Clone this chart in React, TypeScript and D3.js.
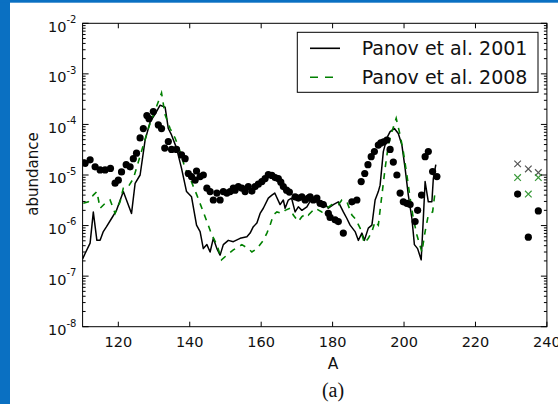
import React from "react";
import * as d3 from "d3";

// Panov et al. 2001 (solid black line): [A, abundance]
const panov2001: [number, number][] = [
  [110, 2.2e-7], [110.7, 2.8e-7], [112.1, 4.5e-7], [113, 1.85e-6], [114, 5.1e-7], [114.9, 5.1e-7],
  [115.8, 7.6e-7], [116.7, 9.5e-7], [118.1, 1.38e-6], [119.5, 2.0e-6], [121.4, 4.7e-6], [123.7, 1.74e-6],
  [124.7, 6.8e-6], [126.1, 1.0e-5], [127.5, 4.9e-5], [128.9, 1.12e-4], [130.3, 1.6e-4], [131.7, 2.4e-4],
  [133.1, 2.2e-4], [134.0, 8.3e-5], [134.9, 6.2e-5], [136.3, 3.4e-5], [137.7, 1.35e-5], [139.1, 4.7e-6],
  [140.5, 3.7e-6], [141.9, 1.02e-6], [142.9, 7.6e-7], [143.8, 3.5e-7], [144.8, 4.2e-7], [145.7, 3.0e-7],
  [146.6, 5.6e-7], [147.6, 3.5e-7], [148.5, 2.6e-7], [149.4, 4.2e-7], [150.8, 5.1e-7], [152.2, 4.8e-7],
  [154.1, 5.6e-7], [156.0, 6.0e-7], [156.9, 7.1e-7], [157.8, 9.5e-7], [158.8, 1.12e-6], [159.7, 1.74e-6],
  [160.6, 2.2e-6], [162, 3.5e-6], [163, 4.0e-6], [163.8, 4.4e-6], [165.3, 2.6e-6], [166.2, 3.2e-6],
  [166.7, 2.2e-6], [167.6, 3.2e-6], [168.5, 3.5e-6], [169.5, 1.86e-6], [170.4, 2.35e-6], [171.4, 2.0e-6],
  [172.8, 2.35e-6], [174.2, 3.5e-6], [176, 2.75e-6], [177.4, 2.95e-6], [178.8, 2.2e-6], [180.2, 2.6e-6],
  [181.6, 2.95e-6], [183, 1.86e-6], [184, 1.38e-6], [184.9, 1.02e-6], [186.3, 7.6e-7], [187.2, 5.1e-7],
  [188.2, 7.1e-7], [188.9, 5.1e-7], [190, 8.9e-7], [191, 1.02e-6], [191.9, 3.2e-6], [192.8, 4.7e-6],
  [193.3, 6.3e-6], [194.2, 2.9e-5], [195.2, 5.4e-5], [196.1, 7.2e-5], [197.3, 8.3e-5], [198.4, 6.6e-5],
  [199.4, 3.9e-5], [200.3, 1.35e-5], [201.2, 4.0e-6], [202.2, 1.38e-6], [202.9, 4.2e-7], [203.8, 3.5e-7],
  [204.8, 2.1e-7], [205.4, 1.38e-6], [205.9, 7.4e-6], [206.8, 2.95e-6], [207.8, 2.95e-6], [208.2, 8.5e-6],
  [208.9, 1.6e-5],
];

// Panov et al. 2008 (green dashed line): [A, abundance]
const panov2008: [number, number][] = [
  [110.2, 2.75e-6], [111.6, 2.95e-6], [113, 4.0e-6], [114, 4.7e-6], [114.9, 2.2e-6], [116.3, 2.75e-6],
  [117.7, 3.2e-6], [119.1, 1.74e-6], [120.5, 2.95e-6], [121.4, 5.5e-6], [122.8, 5.9e-6], [124.2, 8.5e-6],
  [125.6, 1.8e-5], [127, 3.9e-5], [128.4, 8.3e-5], [129.8, 1.55e-4], [131.2, 2.8e-4], [132.1, 4.2e-4],
  [133.1, 1.55e-4], [134.5, 8.3e-5], [135.9, 5.4e-5], [137.3, 2.9e-5], [138.7, 1.35e-5], [140.1, 8.5e-6],
  [142, 4.0e-6], [143.4, 2.2e-6], [144.8, 1.2e-6], [146.2, 6.5e-7], [147.6, 4.2e-7], [148.9, 2.1e-7],
  [150.4, 2.6e-7], [152.2, 3.3e-7], [154.6, 4.2e-7], [156.4, 3.5e-7], [157.4, 3.0e-7], [158.8, 3.5e-7],
  [160.6, 5.1e-7], [161.6, 7.1e-7], [162.5, 1.02e-6], [163.4, 1.62e-6], [164.4, 1.86e-6], [165.8, 1.74e-6],
  [166.7, 2.0e-6], [168.1, 2.2e-6], [169, 1.62e-6], [170.4, 1.2e-6], [171.4, 1.5e-6], [172.8, 1.74e-6],
  [173.2, 1.62e-6], [175.1, 2.2e-6], [177, 1.86e-6], [178.4, 2.2e-6], [179.8, 2.6e-6], [181.6, 2.6e-6],
  [182.6, 3.2e-6], [184, 2.95e-6], [185.4, 1.62e-6], [186.3, 1.38e-6], [187.7, 8.9e-7], [188.9, 4.5e-7],
  [190, 5.6e-7], [191, 7.6e-7], [191.9, 1.2e-6], [192.8, 1.02e-6], [193.8, 4.0e-6], [194.7, 1.35e-5],
  [195.6, 3.9e-5], [196.6, 7.2e-5], [197.8, 1.32e-4], [198.9, 6.2e-5], [199.8, 2.9e-5], [200.8, 1.0e-5],
  [201.7, 3.5e-6], [202.6, 1.38e-6], [203.6, 6.5e-7], [205, 3.0e-7], [205.9, 7.6e-7], [206.8, 1.62e-6],
  [208, 1.86e-6], [208.7, 4.7e-6],
];

// Observed abundances (black dots): [A, abundance]
const observed: [number, number][] = [
  [110.7, 1.7e-5], [112.1, 2.0e-5], [113.5, 1.45e-5], [114.9, 1.26e-5], [116.3, 1.26e-5], [117.8, 1.35e-5],
  [119.1, 6.9e-6], [120.0, 7.9e-6], [120.9, 1.15e-5], [122.2, 1.6e-5], [123.3, 1.45e-5], [124.2, 2.1e-5],
  [125.1, 2.7e-5], [126.1, 5.4e-5], [127.0, 8.3e-5], [128.0, 1.5e-4], [128.6, 1.3e-4], [129.8, 1.8e-4],
  [131.2, 9.8e-5], [132.1, 8.3e-5], [133.0, 3.4e-5], [134.0, 4.6e-5], [134.9, 3.2e-5], [136.3, 3.2e-5],
  [137.7, 2.5e-5], [138.7, 2.1e-5], [139.6, 1.07e-5], [140.5, 9.3e-6], [141.5, 7.9e-6], [141.9, 1.2e-5],
  [142.9, 9.3e-6], [143.8, 1.0e-5], [144.8, 5.5e-6], [145.7, 4.7e-6], [146.6, 3.2e-6], [147.6, 4.4e-6],
  [148.5, 3.2e-6], [149.4, 4.7e-6], [150.4, 4.4e-6], [151.3, 4.7e-6], [152.2, 5.5e-6], [152.7, 5.0e-6],
  [153.6, 5.9e-6], [154.6, 5.5e-6], [155.5, 4.7e-6], [156.4, 5.9e-6], [157.4, 4.8e-6], [158.3, 5.9e-6],
  [159.2, 6.6e-6], [160.2, 7.4e-6], [161.1, 8.5e-6], [162.0, 1.02e-5], [163.0, 9.8e-6], [163.9, 8.9e-6],
  [164.8, 8.5e-6], [165.5, 7.2e-6], [166.2, 5.9e-6], [167.1, 5.0e-6], [167.9, 4.6e-6], [169.5, 3.7e-6],
  [170.4, 3.5e-6], [171.4, 3.7e-6], [172.3, 3.2e-6], [173.2, 3.5e-6], [173.7, 3.7e-6], [174.6, 3.2e-6],
  [175.6, 3.5e-6], [176.5, 2.75e-6], [177.4, 2.6e-6], [178.8, 1.75e-6], [179.3, 1.45e-6], [180.7, 1.3e-6],
  [181.6, 1.2e-6], [183.0, 7.1e-7], [185.4, 2.95e-6], [186.8, 3.2e-6], [188.0, 7.4e-6], [189.0, 1.07e-5],
  [189.9, 1.6e-5], [190.8, 2.3e-5], [191.7, 2.9e-5], [192.8, 3.9e-5], [193.5, 4.3e-5], [194.3, 4.5e-5],
  [195.2, 4.9e-5], [196.1, 3.2e-5], [197.0, 1.8e-5], [198.0, 1.0e-5], [198.9, 4.4e-6], [199.8, 2.95e-6],
  [200.8, 2.75e-6], [201.7, 2.6e-6], [203.1, 1.2e-6], [203.8, 2.0e-6], [204.9, 4.0e-6], [205.9, 2.3e-5],
  [206.8, 2.9e-5], [208.0, 1.17e-5], [209.2, 9.3e-6],
  [231.8, 4.2e-6], [234.8, 5.9e-7], [237.6, 1.95e-6],
];

// Crosses (gray and green) at the right
const crossGray: [number, number][] = [[231.8, 1.66e-5], [234.8, 1.32e-5], [237.6, 1.12e-5]];
const crossGreen: [number, number][] = [[231.8, 8.9e-6], [234.8, 4.2e-6], [237.6, 8.9e-6]];

const xTicks = [120, 140, 160, 180, 200, 220, 240];
const yExponents = [-2, -3, -4, -5, -6, -7, -8];
const legendLabels = ["Panov et al. 2001", "Panov et al. 2008"];

const W = 558;
const H = 404;
const L = 82.6, R = 546.9, T = 23.3, B = 326.7;
const FONT = "DejaVu Sans, Verdana, sans-serif";

export default function App() {
  const x = d3.scaleLinear().domain([110, 240]).range([L, R]);
  const y = d3.scaleLog().domain([1e-2, 1e-8]).range([T, B]);
  const line = d3
    .line<[number, number]>()
    .x((d) => x(d[0]))
    .y((d) => y(d[1]));

  const minorTicks: number[] = [];
  for (let e = -8; e < -2; e++) {
    for (let m = 2; m <= 9; m++) minorTicks.push(m * Math.pow(10, e));
  }

  const cross = (cx: number, cy: number, s: number) =>
    `M${cx - s},${cy - s}L${cx + s},${cy + s}M${cx - s},${cy + s}L${cx + s},${cy - s}`;

  return (
    <svg
      width={W}
      height={H}
      style={{ position: "absolute", left: 0, top: 0, background: "#fff" }}
      fontFamily={FONT}
    >
      <rect x={0} y={0} width={W} height={H} fill="#fff" />
      <rect x={0} y={0} width={10} height={H} fill="#0a70c2" />
      <rect x={0} y={0} width={W} height={2.7} fill="#0a70c2" />

      <defs>
        <clipPath id="plotclip">
          <rect x={L} y={T} width={R - L} height={B - T} />
        </clipPath>
      </defs>

      <g clipPath="url(#plotclip)">
        <path d={line(panov2001) || ""} fill="none" stroke="#000" strokeWidth={1.5} strokeLinejoin="round" />
        <path
          d={line(panov2008) || ""}
          fill="none"
          stroke="#008000"
          strokeWidth={1.6}
          strokeDasharray="6,6"
        />
        {observed.map((d, i) => (
          <circle key={i} cx={x(d[0])} cy={y(d[1])} r={3.6} fill="#000" />
        ))}
        {crossGray.map((d, i) => (
          <path key={"g" + i} d={cross(x(d[0]), y(d[1]), 3.3)} stroke="#555" strokeWidth={1.2} fill="none" />
        ))}
        {crossGreen.map((d, i) => (
          <path key={"n" + i} d={cross(x(d[0]), y(d[1]), 3.3)} stroke="#3a9a3a" strokeWidth={1.2} fill="none" />
        ))}
      </g>

      {/* frame */}
      <rect x={L} y={T} width={R - L} height={B - T} fill="none" stroke="#000" strokeWidth={1} />

      {/* x ticks */}
      {xTicks.map((t) => (
        <g key={t}>
          <line x1={x(t)} x2={x(t)} y1={B} y2={B - 5} stroke="#000" />
          <line x1={x(t)} x2={x(t)} y1={T} y2={T + 5} stroke="#000" />
          <text x={x(t)} y={347} textAnchor="middle" fontSize={14.5} fill="#111">
            {t}
          </text>
        </g>
      ))}

      {/* y ticks */}
      {yExponents.map((e) => {
        const yy = y(Math.pow(10, e));
        return (
          <g key={e}>
            <line x1={L} x2={L + 6} y1={yy} y2={yy} stroke="#000" />
            <line x1={R} x2={R - 6} y1={yy} y2={yy} stroke="#000" />
            <text x={76.5} y={yy + 8.4} textAnchor="end" fontSize={14.5} fill="#111">
              <tspan>10</tspan>
              <tspan dy={-8.5} fontSize={10}>{`-${-e}`}</tspan>
            </text>
          </g>
        );
      })}
      {minorTicks.map((v, i) => (
        <g key={"m" + i}>
          <line x1={L} x2={L + 3} y1={y(v)} y2={y(v)} stroke="#000" />
          <line x1={R} x2={R - 3} y1={y(v)} y2={y(v)} stroke="#000" />
        </g>
      ))}

      {/* axis labels */}
      <text x={333} y={368.5} textAnchor="middle" fontSize={15.5} fill="#111">
        A
      </text>
      <text
        transform={`translate(37.5,174) rotate(-90)`}
        textAnchor="middle"
        fontSize={15}
        fill="#111"
      >
        abundance
      </text>
      <text x={333} y={397} textAnchor="middle" fontSize={20} fontFamily="Liberation Serif, Times New Roman, serif" fill="#111">
        (a)
      </text>

      {/* legend */}
      <rect x={297.3} y={32.3} width={240.7} height={60} fill="#fff" stroke="#000" strokeWidth={1} />
      <line x1={310} x2={340} y1={48.3} y2={48.3} stroke="#000" strokeWidth={1.6} />
      <line x1={310} x2={340} y1={77.3} y2={77.3} stroke="#008000" strokeWidth={1.6} strokeDasharray="8,7" />
      <text x={361.7} y={55} fontSize={19} fill="#111">
        {legendLabels[0]}
      </text>
      <text x={361.7} y={83.8} fontSize={19} fill="#111">
        {legendLabels[1]}
      </text>
    </svg>
  );
}
